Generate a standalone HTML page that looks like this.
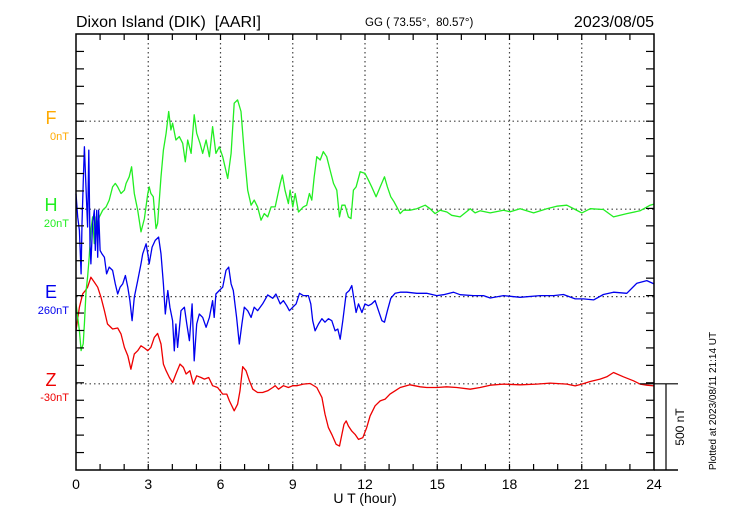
<!DOCTYPE html>
<html><head><meta charset="utf-8"><style>
body{margin:0;background:#fff;width:730px;height:520px;overflow:hidden}
svg{display:block;font-family:"Liberation Sans",sans-serif}
</style></head><body>
<svg id="chart" width="730" height="520" viewBox="0 0 730 520">
<text x="76" y="27" font-size="16" style="white-space:pre" xml:space="preserve">Dixon Island (DIK)  [AARI]</text>
<text x="365" y="26" font-size="11.5" style="white-space:pre" xml:space="preserve">GG ( 73.55°,  80.57°)</text>
<text x="654" y="27" font-size="16" text-anchor="end">2023/08/05</text>
<g id="grid"></g>
<g id="series"></g>
<g id="axes"></g>
<text x="51" y="124" font-size="18" fill="#ffaa00" text-anchor="middle">F</text>
<text x="69" y="140" font-size="11" fill="#ffaa00" text-anchor="end">0nT</text>
<text x="51" y="211" font-size="18" fill="#22ee22" text-anchor="middle">H</text>
<text x="69" y="227" font-size="11" fill="#22ee22" text-anchor="end">20nT</text>
<text x="51" y="298" font-size="18" fill="#0000ee" text-anchor="middle">E</text>
<text x="69" y="314" font-size="11" fill="#0000ee" text-anchor="end">260nT</text>
<text x="51" y="386" font-size="18" fill="#ee0000" text-anchor="middle">Z</text>
<text x="69" y="401" font-size="11" fill="#ee0000" text-anchor="end">-30nT</text>
<text x="365" y="503" font-size="14" text-anchor="middle">U T (hour)</text>
<text transform="translate(684,427) rotate(-90)" font-size="12" text-anchor="middle">500 nT</text>
<text transform="translate(716,401) rotate(-90)" font-size="10" text-anchor="middle">Plotted at 2023/08/11 21:14 UT</text>
</svg>
<script>
const xTicks=[0,3,6,9,12,15,18,21,24];
const hT=[0,.14,.21,.30,.35,.42,.48,.55,.62,.69,.76,.83,.9,.97,1.11,1.25,1.38,1.52,1.63,1.73,1.87,2.01,2.08,2.21,2.31,2.42,2.56,2.70,2.84,2.98,3.04,3.11,3.21,3.32,3.39,3.53,3.63,3.74,3.85,3.94,4.01,4.15,4.29,4.43,4.54,4.64,4.78,4.91,5.01,5.15,5.26,5.40,5.54,5.67,5.81,5.95,6.09,6.30,6.44,6.57,6.71,6.85,6.99,7.13,7.27,7.40,7.54,7.68,7.82,7.96,8.10,8.27,8.48,8.57,8.68,8.82,8.89,9.0,9.1,9.24,9.44,9.58,9.69,9.79,9.89,10.0,10.14,10.27,10.41,10.55,10.69,10.83,10.94,11.04,11.17,11.31,11.42,11.52,11.63,11.80,12.0,12.14,12.28,12.46,12.63,12.81,12.93,13.07,13.21,13.32,13.46,13.6,13.87,14.15,14.5,14.7,14.91,15.12,15.4,15.6,15.95,16.37,16.57,16.78,17.2,17.75,18.03,18.44,19.0,19.55,19.96,20.38,20.73,21.0,21.35,21.9,22.32,22.87,23.42,23.84,24.0];
const hV=[-542,-696,-811,-772,-657,-466,-389,-274,-121,-44,-197,-44,-82,-44,-6,13,52,128,148,128,90,109,148,186,243,90,-6,-130,-54,90,128,90,71,-111,-82,186,339,435,560,454,493,397,416,378,272,397,320,541,435,378,320,397,301,473,320,358,301,176,320,608,627,560,320,109,23,52,13,-63,-25,-44,13,13,148,196,109,32,109,13,90,-16,13,23,90,52,186,301,282,330,301,224,148,109,-44,23,23,-44,-54,109,128,215,205,167,128,71,128,186,128,71,42,13,-25,-6,-6,3,23,3,-25,-6,-16,-35,-44,3,-21,-9,-21,-6,-15,3,-21,3,17,23,-2,-21,3,-2,-44,-25,-9,23,29];
const eT=[0,.07,.14,.21,.25,.30,.35,.42,.48,.53,.58,.62,.69,.76,.80,.86,.90,.94,1.0,1.08,1.18,1.27,1.38,1.52,1.63,1.73,1.83,1.94,2.05,2.15,2.24,2.33,2.42,2.56,2.70,2.77,2.91,2.98,3.04,3.16,3.29,3.43,3.53,3.63,3.71,3.81,3.90,4.01,4.08,4.15,4.22,4.36,4.50,4.60,4.71,4.82,4.91,5.01,5.12,5.26,5.40,5.54,5.67,5.74,5.81,5.95,6.09,6.23,6.34,6.44,6.53,6.67,6.78,6.89,6.99,7.13,7.27,7.40,7.54,7.75,7.96,8.17,8.30,8.48,8.61,8.75,8.86,9.0,9.14,9.28,9.44,9.65,9.75,9.83,9.93,10.07,10.21,10.34,10.48,10.62,10.76,10.87,10.97,11.08,11.22,11.35,11.45,11.55,11.63,11.73,11.87,12.0,12.14,12.28,12.42,12.56,12.70,12.81,12.93,13.07,13.25,13.46,13.73,14.15,14.56,14.98,15.26,15.67,15.95,16.5,16.92,17.2,17.75,18.44,19.27,19.83,20.24,20.73,21.07,21.49,21.9,22.32,22.87,23.29,23.7,24.0];
const eV=[590,456,380,130,418,648,859,610,399,840,303,188,418,495,265,495,226,495,265,245,226,130,169,150,73,15,54,73,121,54,-23,-138,-4,92,188,245,303,245,188,284,322,341,245,73,-100,35,-61,-138,-311,-157,-291,-81,-61,-157,-253,-42,-368,-157,-100,-119,-176,-119,-23,-119,15,35,54,150,169,73,35,-119,-272,-157,-61,-81,-119,-61,-81,-42,10,-10,15,-42,-23,-52,-81,-61,-42,19,6,6,-42,-138,-196,-157,-127,-147,-127,-138,-196,-186,-244,-138,19,35,63,-23,-91,-42,-91,-42,-52,-42,-23,-81,-138,-147,-81,-10,19,25,25,19,19,6,11,25,11,6,6,-8,6,-4,6,6,12,-13,-13,-19,12,25,19,77,92,73,50,42];
const zT=[0,.14,.28,.39,.48,.62,.76,.90,1.04,1.18,1.31,1.52,1.73,1.87,2.01,2.15,2.28,2.42,2.56,2.70,2.84,2.98,3.11,3.25,3.39,3.53,3.63,3.74,3.88,4.01,4.15,4.32,4.46,4.57,4.73,4.87,5.01,5.19,5.33,5.51,5.67,5.88,6.09,6.26,6.37,6.57,6.71,6.81,6.92,7.06,7.20,7.34,7.54,7.75,7.96,8.17,8.27,8.41,8.61,8.82,9.0,9.17,9.44,9.72,10.0,10.21,10.34,10.48,10.62,10.8,10.94,11.04,11.13,11.22,11.31,11.45,11.59,11.73,11.91,12.07,12.21,12.42,12.63,12.84,13.04,13.25,13.46,13.87,14.29,14.56,14.98,15.39,15.81,16.37,16.78,17.2,17.75,18.44,19.13,19.69,20.38,20.73,21.0,21.35,21.76,22.04,22.32,22.73,23.15,23.42,23.7,24.0];
const zV=[305,439,516,535,554,611,583,554,496,420,343,314,320,286,209,161,84,171,190,218,205,190,209,266,289,228,113,75,36,7,56,113,94,56,75,-2,46,36,27,36,-11,-21,-59,-59,-98,-155,-117,-40,98,75,17,-31,-50,-50,-40,-21,-11,-31,-11,-21,-11,-11,-2,2,-21,-78,-174,-251,-290,-347,-357,-290,-232,-213,-242,-271,-290,-319,-309,-251,-184,-126,-98,-88,-59,-40,-21,-6,-17,-21,-21,-17,-21,-31,-21,-8,-2,-6,-2,4,-2,-12,-2,13,27,40,65,40,17,-2,-8,-12];
const X0=76,X1=654,Y0=34,Y1=470,PPH=(X1-X0)/24,PPN=0.1744;
const x=t=>X0+t*PPH;
const y=(v,b)=>b-v*PPN;
const NS="http://www.w3.org/2000/svg";
function mk(tag,attrs,parent){const e=document.createElementNS(NS,tag);for(const k in attrs)e.setAttribute(k,attrs[k]);parent.appendChild(e);return e;}
const grid=document.getElementById('grid'),axes=document.getElementById('axes'),ser=document.getElementById('series');
const dot={stroke:"#444","stroke-width":1.2,"stroke-dasharray":"1.5,3"};
[121.2,209.2,296.6].forEach(gy=>{const l=mk('line',Object.assign({x1:X0,x2:X1,y1:gy,y2:gy},dot),grid);});
const zl=mk('line',Object.assign({x1:X0,x2:640,y1:383.8,y2:383.8},dot),grid);


xTicks.forEach(t=>{if(t>0&&t<24){const l=mk('line',Object.assign({x1:x(t),x2:x(t),y1:Y0,y2:Y1},dot),grid);}
const tx=mk('text',{x:x(t),y:489,'font-size':14,'text-anchor':'middle'},axes);tx.textContent=t;

});
for(let h=1;h<24;h++){mk('line',{x1:x(h),x2:x(h),y1:Y1,y2:Y1-6,stroke:"#000","stroke-width":1.2},axes);mk('line',{x1:x(h),x2:x(h),y1:Y0,y2:Y0+6,stroke:"#000","stroke-width":1.2},axes);}
for(let k=1;k<25;k++){const gy=Y0+k*(Y1-Y0)/25;mk('line',{x1:X0,x2:X0+8,y1:gy,y2:gy,stroke:"#000","stroke-width":1.2},axes);mk('line',{x1:X1,x2:X1-8,y1:gy,y2:gy,stroke:"#000","stroke-width":1.2},axes);}
const box=mk('rect',{x:X0,y:Y0,width:X1-X0,height:Y1-Y0,fill:"none",stroke:"#000","stroke-width":1.5},axes);


mk('line',{x1:X1,x2:678,y1:Y1,y2:Y1,stroke:"#000","stroke-width":1.5},axes);
mk('line',{x1:640,x2:678,y1:383.8,y2:383.8,stroke:"#000","stroke-width":1.2},axes);
const sb=mk('line',{x1:666,x2:666,y1:383.8,y2:Y1,stroke:"#000","stroke-width":1.2},axes);


function series(T,V,base,color,name){const d=T.map((t,i)=>(i?'L':'M')+x(t).toFixed(1)+','+y(V[i],base).toFixed(1)).join('');
const p=mk('path',{d:d,fill:"none",stroke:color,"stroke-width":1.3,"stroke-linejoin":"round"},ser);

}
series(zT,zV,383.8,"#ee0000","z-component-line");
series(hT,hV,209.2,"#22ee22","h-component-line");
series(eT,eV,296.6,"#0000ee","e-component-line");
</script>
</body></html>
